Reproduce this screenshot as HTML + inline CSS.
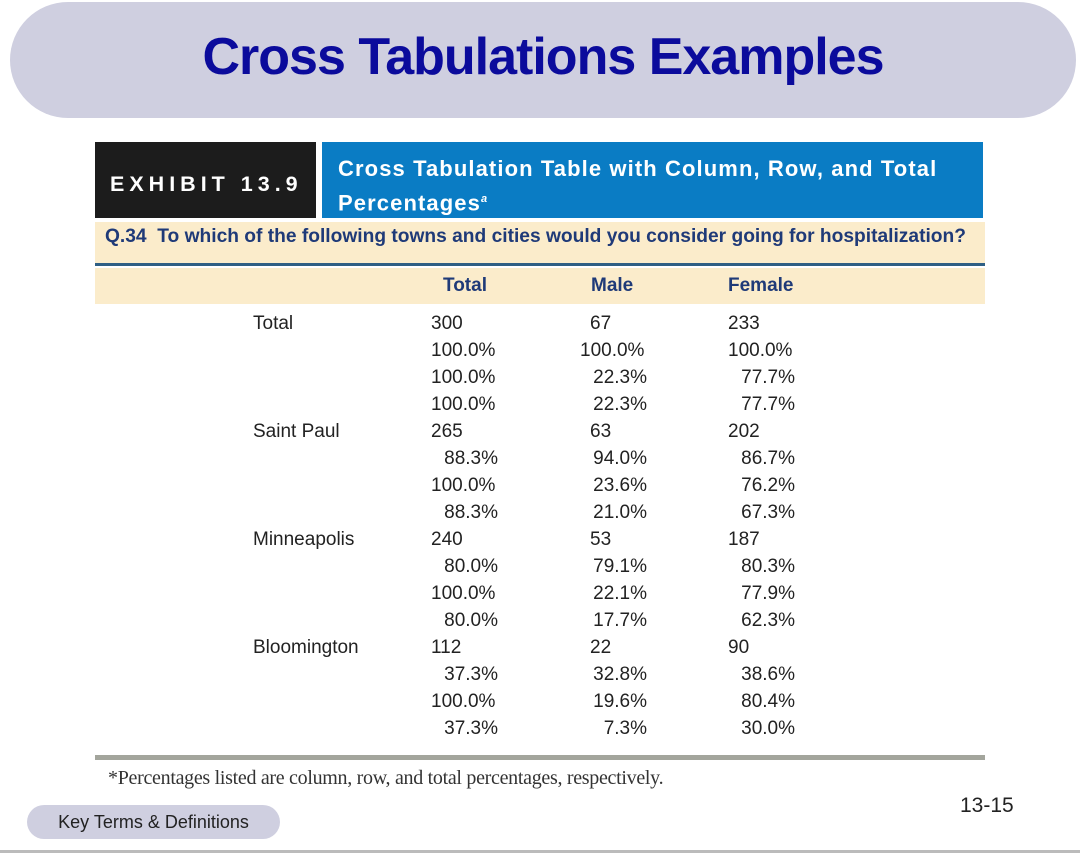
<!DOCTYPE html>
<html><head><meta charset="utf-8">
<style>
body{margin:0;width:1080px;height:853px;background:#fff;position:relative;overflow:hidden;font-family:"Liberation Sans",sans-serif}
.a{position:absolute}
.c{position:absolute;font-size:19px;color:#222;line-height:22px;white-space:nowrap}
</style></head><body>
<div class="a" style="left:10px;top:2px;width:1066px;height:116px;border-radius:58px;background:#cfcfe0"></div>
<div class="a" style="left:0;width:1086px;top:26px;text-align:center;font-size:52px;font-weight:bold;color:#0b0b9c;letter-spacing:-1px;line-height:62px">Cross Tabulations Examples</div>

<div class="a" style="left:95px;top:142px;width:221px;height:76px;background:#1c1c1c;color:#fff;font-weight:bold;font-size:21.5px;letter-spacing:5px;line-height:84px;text-indent:15px;white-space:nowrap">EXHIBIT 13.9</div>
<div class="a" style="left:322px;top:142px;width:661px;height:76px;background:#0a7cc4;color:#fff;font-weight:bold;font-size:22px;letter-spacing:1.1px;line-height:31px;padding:11px 0 0 16px;box-sizing:border-box">Cross Tabulation Table with Column, Row, and Total Percentages<sup style="font-size:11px;font-style:italic">a</sup></div>
<div class="a" style="left:95px;top:222px;width:890px;height:41px;background:#fbeccb;color:#1f3a78;font-weight:bold;font-size:19.2px;line-height:30px;text-indent:10px;white-space:nowrap">Q.34&nbsp; To which of the following towns and cities would you consider going for hospitalization?</div>
<div class="a" style="left:95px;top:263px;width:890px;height:3px;background:#2f5f84"></div>
<div class="a" style="left:95px;top:268px;width:890px;height:36px;background:#fbeccb"></div>
<div class="c" style="left:443px;top:275px;font-weight:bold;color:#1f3a78">Total</div>
<div class="c" style="left:591px;top:275px;font-weight:bold;color:#1f3a78">Male</div>
<div class="c" style="left:728px;top:275px;font-weight:bold;color:#1f3a78">Female</div>
<div id="tbl"></div>
<div class="a" style="left:95px;top:755px;width:890px;height:5px;background:#a3a59c"></div>
<div class="a" style="left:108px;top:767px;font-family:'Liberation Serif',serif;font-size:20px;color:#333;letter-spacing:-0.3px">*Percentages listed are column, row, and total percentages, respectively.</div>
<div class="a" style="left:960px;top:794px;font-size:21px;color:#222">13-15</div>
<div class="a" style="left:27px;top:805px;width:253px;height:34px;border-radius:17px;background:#cfcfe0;font-size:18px;line-height:34px;text-align:center;color:#222">Key Terms &amp; Definitions</div>
<div class="a" style="left:0;top:850px;width:1080px;height:3px;background:#bbb"></div>
<script>
const rowLabels=["Total","Saint Paul","Minneapolis","Bloomington"];
const totalCol=[["300","100.0%","100.0%","100.0%"],["265","88.3%","100.0%","88.3%"],["240","80.0%","100.0%","80.0%"],["112","37.3%","100.0%","37.3%"]];
const maleCol=[["67","100.0%","22.3%","22.3%"],["63","94.0%","23.6%","21.0%"],["53","79.1%","22.1%","17.7%"],["22","32.8%","19.6%","7.3%"]];
const femaleCol=[["233","100.0%","77.7%","77.7%"],["202","86.7%","76.2%","67.3%"],["187","80.3%","77.9%","62.3%"],["90","38.6%","80.4%","30.0%"]];
const t=document.getElementById('tbl');
function cell(txt,left,right,top,name){
 const d=document.createElement('div');d.className='c';d.textContent=txt;
 d.style.top=top+'px';
 if(left!=null)d.style.left=left+'px';else d.style.right=(1080-right)+'px';
 
 
 t.appendChild(d);
}
const cols=[[totalCol,431,498,431],[maleCol,590,647,580],[femaleCol,728,795,728]];
rowLabels.forEach((lab,i)=>{
 const y0=313+i*4*27;
 cell(lab,253,null,y0,'row-label');
 cols.forEach(([data,cl,cr,pl])=>{
  data[i].forEach((v,k)=>{
   const y=y0+k*27;
   if(k==0)cell(v,cl,null,y,'count-cell');
   else if(v.length==6)cell(v,pl,null,y,'percent-cell');
   else cell(v,null,cr,y,'percent-cell');
  });
 });
});
</script>
</body></html>
